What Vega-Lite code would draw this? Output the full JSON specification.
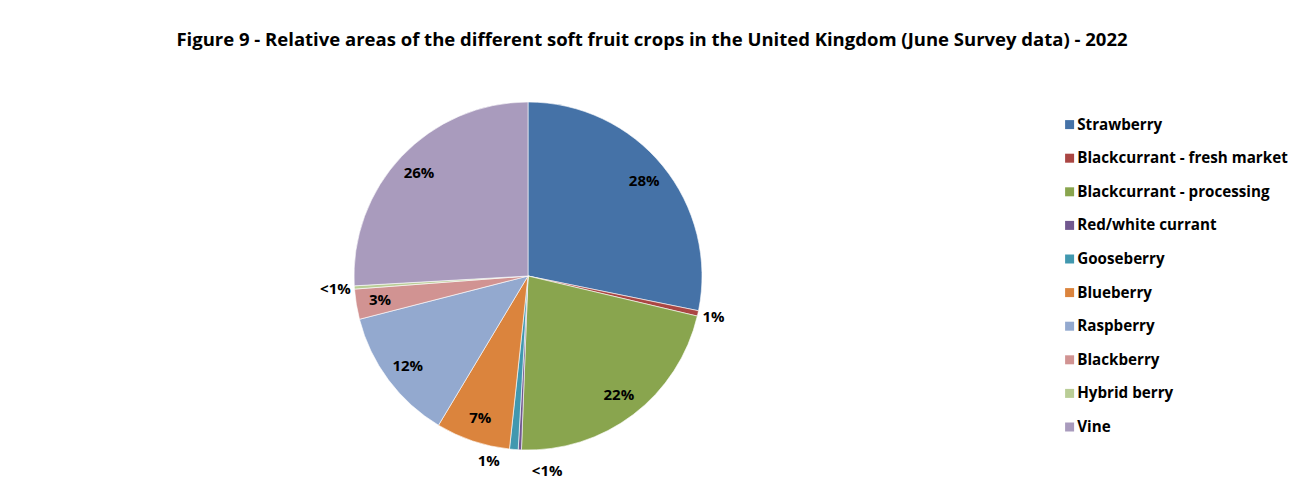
{
  "$schema": "https://vega.github.io/schema/vega-lite/v6.json",
  "width": 348,
  "height": 348,
  "autosize": {"type": "none"},
  "padding": {"left": 354, "top": 102, "right": 604, "bottom": 41},
  "background": "white",
  "title": {
    "text": "Figure 9 - Relative areas of the different soft fruit crops in the United Kingdom (June Survey data) - 2022",
    "font": "Open Sans",
    "fontSize": 18.5,
    "fontWeight": "bold",
    "color": "#000000",
    "anchor": "middle",
    "dx": 124,
    "offset": 51
  },
  "config": {"view": {"stroke": null}, "font": "Open Sans"},
  "data": {
    "values": [
      {"i": 1, "crop": "Strawberry", "share": 28.2, "label": "28%"},
      {"i": 2, "crop": "Blackcurrant - fresh market", "share": 0.5, "label": "1%"},
      {"i": 3, "crop": "Blackcurrant - processing", "share": 21.9, "label": "22%"},
      {"i": 4, "crop": "Red/white currant", "share": 0.3, "label": "<1%"},
      {"i": 5, "crop": "Gooseberry", "share": 0.8, "label": "1%"},
      {"i": 6, "crop": "Blueberry", "share": 6.9, "label": "7%"},
      {"i": 7, "crop": "Raspberry", "share": 12.4, "label": "12%"},
      {"i": 8, "crop": "Blackberry", "share": 2.8, "label": "3%"},
      {"i": 9, "crop": "Hybrid berry", "share": 0.3, "label": "<1%"},
      {"i": 10, "crop": "Vine", "share": 25.9, "label": "26%"}
    ]
  },
  "encoding": {
    "theta": {"field": "share", "type": "quantitative", "stack": true},
    "order": {"field": "i", "type": "quantitative"}
  },
  "layer": [
    {
      "mark": {"type": "arc", "stroke": "white", "strokeWidth": 0.6},
      "encoding": {
        "color": {
          "field": "crop",
          "type": "nominal",
          "scale": {
            "domain": ["Strawberry", "Blackcurrant - fresh market", "Blackcurrant - processing", "Red/white currant", "Gooseberry", "Blueberry", "Raspberry", "Blackberry", "Hybrid berry", "Vine"],
            "range": ["#4572A7", "#AA4643", "#89A54E", "#71588F", "#4198AF", "#DB843D", "#93A9CF", "#D19392", "#B9CD96", "#A99BBD"]
          },
          "legend": {
            "title": null,
            "orient": "none",
            "legendX": 708,
            "legendY": 15,
            "padding": 0,
            "symbolType": "square",
            "symbolSize": 81,
            "symbolStrokeWidth": 0,
            "labelFont": "Open Sans",
            "labelFontSize": 15.2,
            "labelFontWeight": "bold",
            "labelColor": "#000000",
            "labelOffset": 0,
            "rowPadding": 17.6,
            "labelLimit": 300
          }
        }
      }
    },
    {
      "mark": {"type": "text", "radius": 150, "fontSize": 15, "fontWeight": "bold", "color": "#000000", "font": "Open Sans"},
      "encoding": {
        "text": {"condition": {"test": "datum.share >= 2", "field": "label"}, "value": ""}
      }
    },
    {
      "mark": {"type": "text", "radius": 190, "fontSize": 15, "fontWeight": "bold", "color": "#000000", "font": "Open Sans"},
      "encoding": {
        "text": {"condition": {"test": "datum.i == 2", "field": "label"}, "value": ""}
      }
    },
    {
      "mark": {"type": "text", "radius": 193, "fontSize": 15, "fontWeight": "bold", "color": "#000000", "font": "Open Sans"},
      "encoding": {
        "text": {"condition": {"test": "datum.i == 9", "field": "label"}, "value": ""}
      }
    },
    {
      "mark": {"type": "text", "radius": 195, "align": "left", "dx": 13, "fontSize": 15, "fontWeight": "bold", "color": "#000000", "font": "Open Sans"},
      "encoding": {
        "text": {"condition": {"test": "datum.i == 4", "field": "label"}, "value": ""}
      }
    },
    {
      "mark": {"type": "text", "radius": 186, "align": "right", "dx": -13, "fontSize": 15, "fontWeight": "bold", "color": "#000000", "font": "Open Sans"},
      "encoding": {
        "text": {"condition": {"test": "datum.i == 5", "field": "label"}, "value": ""}
      }
    }
  ]
}
